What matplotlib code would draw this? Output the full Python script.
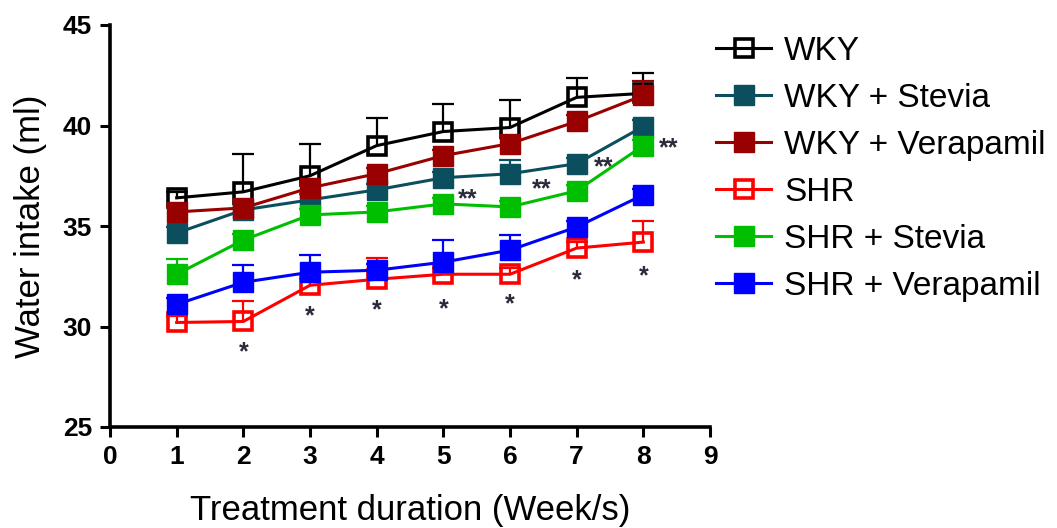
import numpy as np
import matplotlib
matplotlib.use("Agg")
import matplotlib.pyplot as plt

plt.rcParams['font.family'] = ['Liberation Sans', 'DejaVu Sans']

weeks = [1, 2, 3, 4, 5, 6, 7, 8]
labels = ["WKY", "WKY + Stevia", "WKY + Verapamil", "SHR", "SHR + Stevia", "SHR + Verapamil"]

wky = [36.4, 36.7, 37.5, 39.0, 39.7, 39.9, 41.4, 41.6]
wky_err = [0.3, 1.9, 1.6, 1.35, 1.35, 1.35, 0.95, 1.0]

wky_stevia = [34.65, 35.8, 36.3, 36.8, 37.4, 37.6, 38.1, 39.95]
wky_stevia_err = [0.3, 0.3, 0.3, 0.3, 0.3, 0.7, 0.3, 0.3]

wky_verap = [35.7, 35.9, 36.9, 37.6, 38.5, 39.1, 40.2, 41.5]
wky_verap_err = [0.3, 0.3, 0.3, 0.3, 0.3, 0.3, 0.3, 0.7]

shr = [30.2, 30.25, 32.05, 32.35, 32.6, 32.6, 33.9, 34.2]
shr_err = [0.3, 1.0, 0.3, 1.05, 0.3, 0.3, 0.3, 1.05]

shr_stevia = [32.6, 34.3, 35.55, 35.7, 36.1, 35.95, 36.75, 39.0]
shr_stevia_err = [0.75, 0.3, 0.3, 0.3, 0.3, 0.3, 0.3, 0.3]

shr_verap = [31.1, 32.2, 32.7, 32.8, 33.2, 33.8, 34.95, 36.55]
shr_verap_err = [0.3, 0.88, 0.88, 0.3, 1.1, 0.75, 0.3, 0.3]

series = [wky, wky_stevia, wky_verap, shr, shr_stevia, shr_verap]
errors = [wky_err, wky_stevia_err, wky_verap_err, shr_err, shr_stevia_err, shr_verap_err]
colors = ["#000000", "#0b4f5f", "#990000", "#ff0000", "#00bf00", "#0000ff"]
filled = [False, True, True, False, True, True]

single_star_x = [2, 3, 4, 5, 6, 7, 8]
single_star_y = [29.07, 30.84, 31.14, 31.22, 31.47, 32.63, 32.83]
double_star_x = [5.36, 6.48, 7.40, 8.38]
double_star_y = [36.66, 37.15, 38.26, 39.19]

fig = plt.figure(figsize=(10.57, 5.28), dpi=100)
ax = fig.add_axes([110 / 1057, 1 - 427 / 528, 600 / 1057, 402 / 528])

handles = []
for i, (y, e, c, f, lab) in enumerate(zip(series, errors, colors, filled, labels)):
    y = np.array(y)
    e = np.array(e)
    _, caps, bars = ax.errorbar(weeks, y, yerr=[np.zeros_like(e), e], fmt='none',
                                ecolor=c, elinewidth=1.6, capsize=8, capthick=1.6,
                                zorder=2 + 2 * i)
    caps[0].set_visible(False)
    if f:
        ln, = ax.plot(weeks, y, color=c, lw=2.2, marker='s', markersize=14,
                      markerfacecolor=c, markeredgecolor=c, markeredgewidth=1,
                      zorder=3 + 2 * i, label=lab)
    else:
        ln, = ax.plot(weeks, y, color=c, lw=2.2, marker='s', markersize=12.5,
                      markerfacecolor='none', markeredgecolor=c, markeredgewidth=2.6,
                      zorder=3 + 2 * i, label=lab)
    handles.append(ln)

for x, y in zip(single_star_x, single_star_y):
    ax.annotate("*", (x, y), xytext=(0, -10), textcoords='offset points',
                ha='center', va='baseline', fontsize=18, fontweight='bold',
                color='#2a2a3a', zorder=20)
for x, y in zip(double_star_x, double_star_y):
    ax.annotate("**", (x, y), xytext=(0, -10), textcoords='offset points',
                ha='center', va='baseline', fontsize=18, fontweight='bold',
                color='#2a2a3a', zorder=20)

ax.set_xlim(0, 9)
ax.set_ylim(25, 45)
ax.set_xticks(range(0, 10))
ax.set_yticks([25, 30, 35, 40, 45])
for s in ['top', 'right']:
    ax.spines[s].set_visible(False)
for s in ['left', 'bottom']:
    ax.spines[s].set_linewidth(2.6)
ax.tick_params(direction='out', length=7.5, width=2.2, labelsize=19, pad=5.5)
for t in ax.get_xticklabels() + ax.get_yticklabels():
    t.set_fontweight('bold')

ax.set_xlabel("Treatment duration (Week/s)", fontsize=25, labelpad=18)
ax.set_ylabel("Water intake (ml)", fontsize=25, labelpad=11)

fig.legend(handles=handles, labels=labels, loc='upper left',
           bbox_to_anchor=(716 / 1057, 1 - 36 / 528), frameon=False,
           fontsize=24, handlelength=1.65, handletextpad=0.4,
           labelspacing=0.48, borderpad=0, borderaxespad=0)

fig.savefig("out.png", dpi=100)
